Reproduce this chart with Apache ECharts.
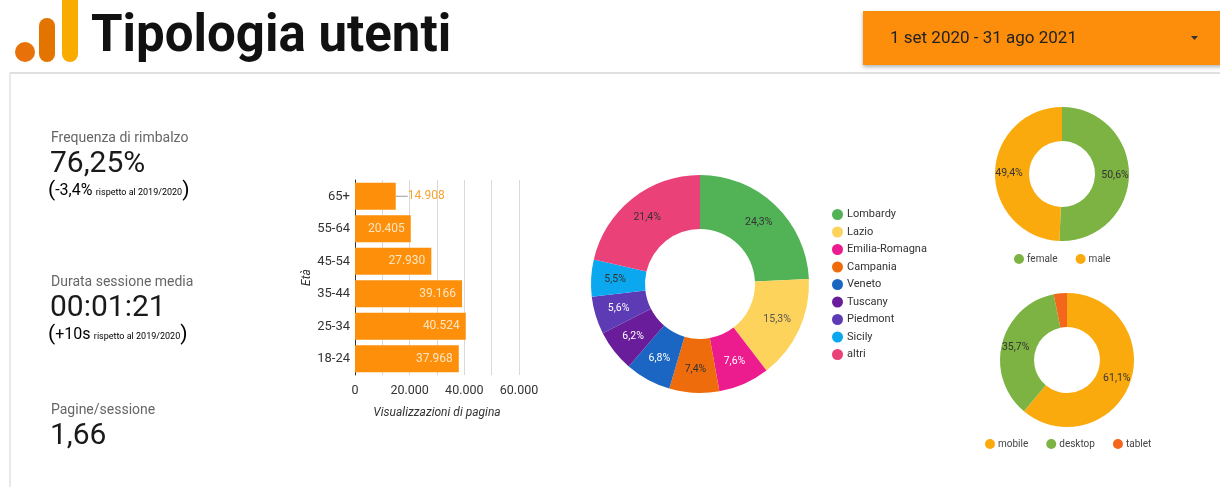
<!DOCTYPE html>
<html>
<head>
<meta charset="utf-8">
<script src="https://cdn.jsdelivr.net/npm/echarts@6/dist/echarts.min.js"></script>
<style>
html,body{margin:0;padding:0;background:#fff;}
#c{width:1220px;height:487px;}
</style>
</head>
<body>
<div id="c"></div>
<script>
// ---- data ----
var ageCategories = ['18-24', '25-34', '35-44', '45-54', '55-64', '65+'];
var ageViews = [37968, 40524, 39166, 27930, 20405, 14908];
var xTicks = [0, 20000, 40000, 60000];

var regionNames = ['Lombardy', 'Lazio', 'Emilia-Romagna', 'Campania', 'Veneto', 'Tuscany', 'Piedmont', 'Sicily', 'altri'];
var regionShares = [24.3, 15.3, 7.6, 7.4, 6.8, 6.2, 5.6, 5.5, 21.4];
var regionColors = ['#52b256', '#fdd35c', '#ec1b8e', '#ef6c0c', '#1a66c2', '#6a1d9a', '#5c3bb5', '#0ba8ef', '#ea4278'];
var regionLabelColors = ['#333', '#555', '#fff', '#333', '#fff', '#fff', '#fff', '#333', '#333'];

var genderNames = ['female', 'male'];
var genderShares = [50.6, 49.4];
var genderColors = ['#7cb342', '#fbaa0d'];

var deviceNames = ['mobile', 'desktop', 'tablet'];
var deviceShares = [61.1, 35.7, 3.2];
var deviceColors = ['#fbaa0d', '#7cb342', '#f4661b'];

var kpis = [
  {title: 'Frequenza di rimbalzo', value: '76,25%', delta: '-3,4%'},
  {title: 'Durata sessione media', value: '00:01:21', delta: '+10s'},
  {title: 'Pagine/sessione', value: '1,66', delta: null}
];
var dateRange = '1 set 2020 - 31 ago 2021';
var pageTitle = 'Tipologia utenti';

function itNum(v) {
  return String(Math.round(v)).replace(/\B(?=(\d{3})+(?!\d))/g, '.');
}
function itPct(v) {
  return v.toFixed(1).replace('.', ',') + '%';
}

var chart = echarts.init(document.getElementById('c'), null, {renderer: 'canvas'});
var FONT = 'Roboto';

var kpiTop = [138, 282, 410];
var graphics = [];
graphics.push(
  {type: 'rect', shape: {x: 62, y: -10, width: 16, height: 72, r: 8}, style: {fill: '#f9ab00'}},
  {type: 'rect', shape: {x: 39, y: 18, width: 16, height: 44, r: 8}, style: {fill: '#e37400'}},
  {type: 'circle', shape: {cx: 25, cy: 52, r: 10}, style: {fill: '#e8710a'}},
  {type: 'text', x: 91, y: 38, style: {text: pageTitle, font: 'bold 51px ' + FONT, fill: '#111', textVerticalAlign: 'middle'}},
  {type: 'rect', shape: {x: 863, y: 11, width: 360, height: 54}, style: {fill: '#fd8e0c', shadowBlur: 4, shadowColor: 'rgba(0,0,0,0.3)', shadowOffsetY: 2}},
  {type: 'text', x: 890, y: 39, style: {text: dateRange, font: '17px ' + FONT, fill: '#222', textVerticalAlign: 'middle'}},
  {type: 'polygon', shape: {points: [[1191, 36], [1198, 36], [1194.5, 40]]}, style: {fill: '#333'}},
  {type: 'line', shape: {x1: 10, y1: 73, x2: 1220, y2: 73}, style: {stroke: '#d6d6d6', lineWidth: 1.5}},
  {type: 'line', shape: {x1: 10, y1: 73, x2: 10, y2: 487}, style: {stroke: '#e2e2e2', lineWidth: 1.5}}
);
kpis.forEach(function (k, i) {
  var t = kpiTop[i];
  graphics.push({type: 'text', x: 51, y: t, style: {text: k.title, font: '14px ' + FONT, fill: '#666', textVerticalAlign: 'middle'}});
  graphics.push({type: 'text', x: 50, y: t + 26, style: {text: k.value, font: '30px ' + FONT, fill: '#1a1a1a', textVerticalAlign: 'middle'}});
  if (k.delta) {
    graphics.push({type: 'text', x: 48, y: t + 53, style: {
      rich: {
        p: {fontSize: 21, fontFamily: FONT, color: '#222'},
        d: {fontSize: 16, fontFamily: FONT, color: '#222'},
        s: {fontSize: 9, fontFamily: FONT, color: '#222', padding: [4, 0, 0, 0]}
      },
      text: '{p|(}{d|' + k.delta + '} {s|rispetto al 2019/2020}{p|)}',
      textVerticalAlign: 'middle'
    }});
  }
});

var option = {
  animation: false,
  textStyle: {fontFamily: FONT},
  graphic: graphics,
  grid: {left: 355, right: 701, top: 180, bottom: 112, containLabel: false},
  xAxis: {
    type: 'value', min: 0, max: 60000, interval: 10000,
    axisLine: {show: false}, axisTick: {show: false},
    splitLine: {lineStyle: {color: '#d9d9d9'}},
    axisLabel: {color: '#333', fontSize: 12.5, margin: 9, formatter: function (v) { return xTicks.indexOf(v) >= 0 ? itNum(v) : ''; }},
    name: 'Visualizzazioni di pagina', nameLocation: 'middle', nameGap: 32,
    nameTextStyle: {fontStyle: 'italic', fontSize: 12, color: '#333'}
  },
  yAxis: {
    type: 'category', data: ageCategories,
    axisLine: {lineStyle: {color: '#333'}}, axisTick: {show: false},
    axisLabel: {color: '#333', fontSize: 13, margin: 5},
    name: 'Età', nameLocation: 'middle', nameGap: 40, nameRotate: 90,
    nameTextStyle: {fontStyle: 'italic', fontSize: 12, color: '#333'}
  },
  legend: [
    {data: regionNames, orient: 'vertical', left: 827, top: 204, itemWidth: 11, itemHeight: 11, itemGap: 6.5, icon: 'circle',
      textStyle: {fontSize: 11, color: '#333', padding: [0, 0, 0, -1]}},
    {data: genderNames, orient: 'horizontal', left: 1009, top: 249, itemWidth: 10, itemHeight: 10, itemGap: 18, icon: 'circle',
      textStyle: {fontSize: 10, color: '#444', padding: [0, 0, 0, -2]}},
    {data: deviceNames, orient: 'horizontal', left: 980, top: 434, itemWidth: 10, itemHeight: 10, itemGap: 18, icon: 'circle',
      textStyle: {fontSize: 10, color: '#444', padding: [0, 0, 0, -2]}}
  ],
  series: [
    {
      type: 'bar', data: ageViews.map(function (v, i) {
        var item = {value: v};
        if (i === ageViews.length - 1) {
          item.label = {position: 'right', distance: 10, color: '#f4a533'};
          item.labelLine = {show: true, lineStyle: {color: '#999', width: 1}};
        }
        return item;
      }),
      barCategoryGap: '17%',
      itemStyle: {color: '#fd8f0a'},
      label: {show: true, position: 'insideRight', distance: 6, color: '#ffe6c2', fontSize: 12,
        formatter: function (p) { return itNum(p.value); }},
      labelLine: {show: false},
      labelLayout: function (p) {
        if (p.dataIndex === ageViews.length - 1) return {dx: 2};
        return {};
      }
    },
    {
      type: 'pie', center: [700, 284], radius: [55, 109], startAngle: 90, clockwise: true,
      avoidLabelOverlap: false,
      data: regionNames.map(function (n, i) {
        return {name: n, value: regionShares[i], itemStyle: {color: regionColors[i]}, label: {color: regionLabelColors[i]}};
      }),
      label: {show: true, position: 'inside', fontSize: 10.5, formatter: function (p) { return itPct(p.value); }},
      labelLine: {show: false}
    },
    {
      type: 'pie', center: [1062, 174], radius: [33, 67], startAngle: 90, clockwise: true,
      avoidLabelOverlap: false,
      data: genderNames.map(function (n, i) { return {name: n, value: genderShares[i], itemStyle: {color: genderColors[i]}}; }),
      label: {show: true, position: 'inside', fontSize: 10.5, color: '#333', formatter: function (p) { return itPct(p.value); }},
      labelLine: {show: false}
    },
    {
      type: 'pie', center: [1067, 360], radius: [33, 67], startAngle: 90, clockwise: true,
      avoidLabelOverlap: false,
      data: deviceNames.map(function (n, i) { return {name: n, value: deviceShares[i], itemStyle: {color: deviceColors[i]}}; }),
      label: {show: true, position: 'inside', fontSize: 10.5, color: '#333',
        formatter: function (p) { return p.value < 5 ? '' : itPct(p.value); }},
      labelLine: {show: false}
    }
  ]
};
chart.setOption(option);
</script>
</body>
</html>
